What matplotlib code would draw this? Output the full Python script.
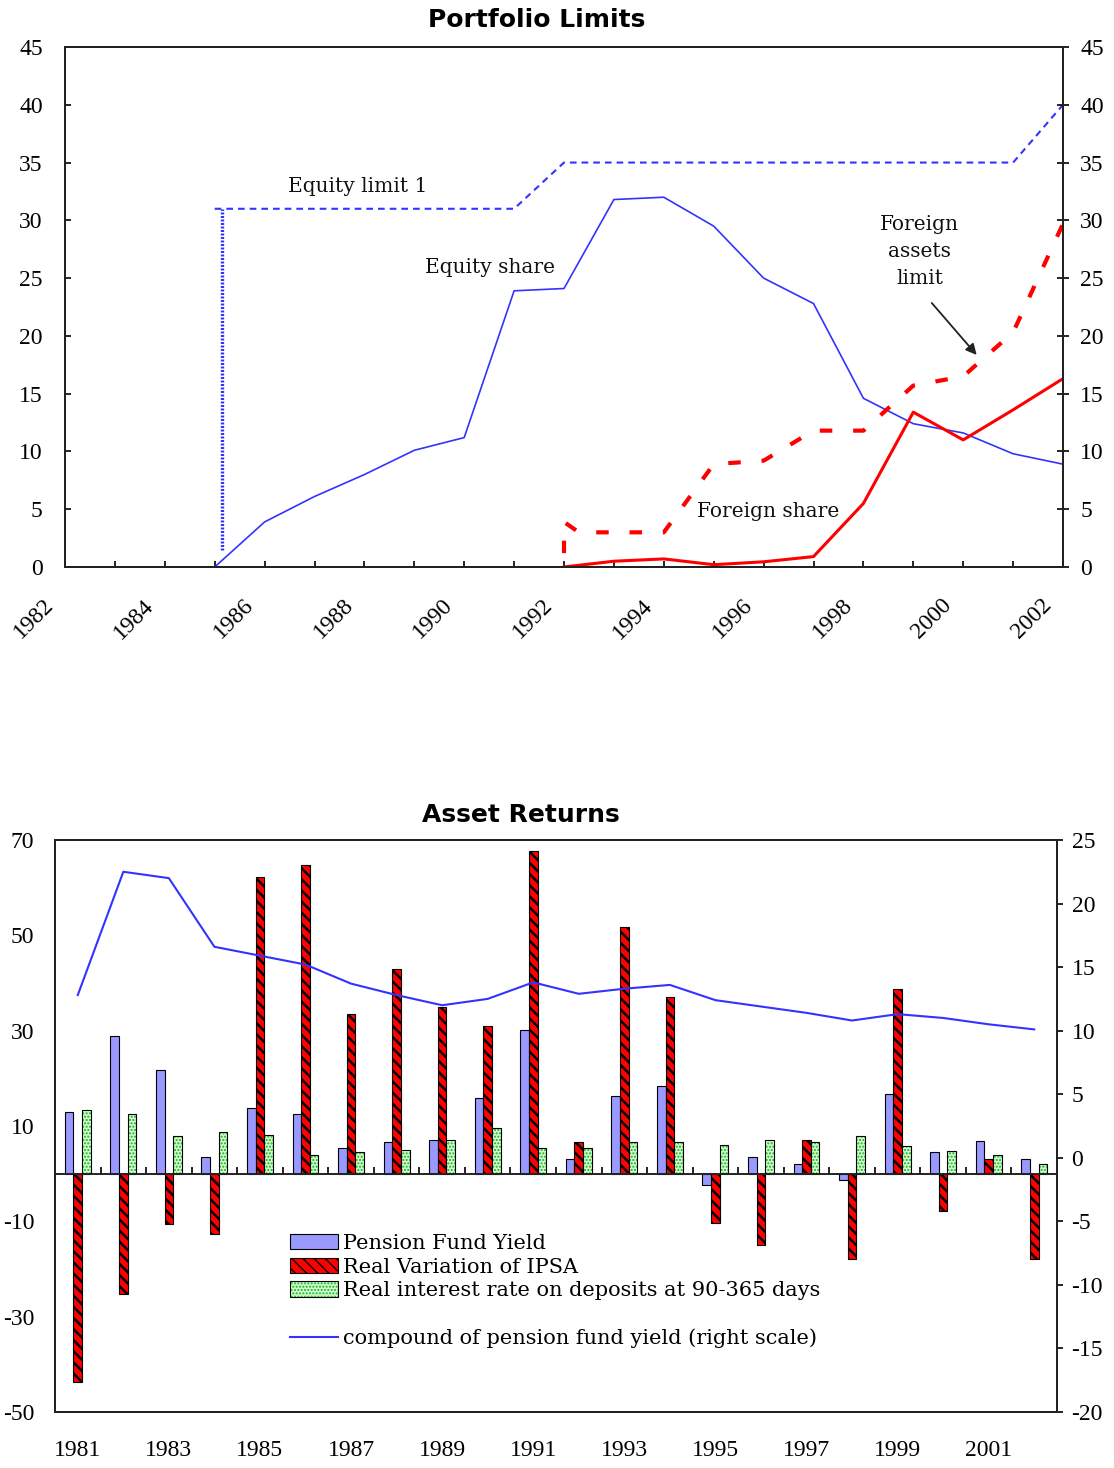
import matplotlib
matplotlib.use('Agg')
import matplotlib.pyplot as plt
import matplotlib.transforms as mtransforms
from matplotlib.patches import Patch
from matplotlib.lines import Line2D
from matplotlib.legend_handler import HandlerTuple

plt.rcParams['axes.unicode_minus'] = False

# ---------------- Data: Portfolio Limits ----------------
top_year_ticks = list(range(1982, 2003))
equity_limit_years = [1985, 1991, 1992, 2001, 2002]
equity_limit = [31, 31, 35, 35, 40]
equity_limit_vert_years = [1985.15, 1985.15]
equity_limit_vert = [1.5, 31]
equity_share_years = [1985, 1986, 1987, 1988, 1989, 1990, 1991, 1992, 1993, 1994,
                      1995, 1996, 1997, 1998, 1999, 2000, 2001, 2002]
equity_share = [0, 3.9, 6.1, 8.0, 10.1, 11.2, 23.9, 24.1, 31.8, 32.0,
                29.5, 25.0, 22.8, 14.6, 12.4, 11.6, 9.8, 8.9]
foreign_share_years = [1992, 1993, 1994, 1995, 1996, 1997, 1998, 1999, 2000, 2001, 2002]
foreign_share = [0, 0.5, 0.7, 0.2, 0.45, 0.9, 5.5, 13.4, 11.0, 13.6, 16.3]
foreign_limit_years = [1992, 1992, 1992.3, 1993, 1994, 1995, 1996, 1997, 1998, 1999, 2000, 2001, 2002]
foreign_limit = [1.2, 3.9, 3.0, 3.0, 3.0, 8.9, 9.2, 11.8, 11.8, 15.7, 16.5, 20.3, 29.7]

# ---------------- Data: Asset Returns ----------------
ret_years = [str(y) for y in range(1981, 2003)]
pension_yield = [12.9, 28.9, 21.8, 3.6, 13.7, 12.5, 5.3, 6.6, 7.0, 15.9, 30.1,
                 3.1, 16.2, 18.3, -2.3, 3.6, 2.0, -1.4, 16.7, 4.5, 6.9, 3.1]
ipsa_variation = [-43.8, -25.3, -10.5, -12.6, 62.3, 64.8, 33.6, 42.9, 34.9, 31.0, 67.7,
                  6.6, 51.7, 37.1, -10.3, -15.0, 7.0, -17.9, 38.8, -7.8, 3.1, -17.9]
deposit_rate = [13.3, 12.5, 7.8, 8.7, 8.2, 4.0, 4.5, 4.9, 7.0, 9.6, 5.3,
                5.3, 6.6, 6.6, 6.1, 7.0, 6.6, 7.8, 5.7, 4.8, 4.0, 2.0]
compound_yield = [12.8, 22.5, 22.0, 16.6, 15.9, 15.2, 13.7, 12.8, 12.0, 12.5, 13.8,
                  12.9, 13.3, 13.6, 12.4, 11.9, 11.4, 10.8, 11.3, 11.0, 10.5, 10.1]
left_ticks = [-50, -30, -10, 10, 30, 50, 70]
right_ticks = [-20, -15, -10, -5, 0, 5, 10, 15, 20, 25]

TICKFONT = 'Liberation Serif'
TICKSIZE = 17
TEXTFONT = 'DejaVu Serif'
W, H = 1114, 1468
fig = plt.figure(figsize=(W / 100, H / 100), dpi=100)

def frac_box(l, t, r, b):
    return [l / W, 1 - b / H, (r - l) / W, (b - t) / H]

# ================= Top chart =================
ax1 = fig.add_axes(frac_box(65, 47, 1063, 567))
blue = '#3333ff'
red = '#ff0000'
ax1.plot(equity_limit_years, equity_limit, color=blue, lw=1.5, dashes=(3.2, 2.4))
ax1.plot(equity_limit_vert_years, equity_limit_vert, color=blue, lw=2.4, dashes=(0.6, 0.45))
ax1.plot(equity_share_years, equity_share, color=blue, lw=1.2)
ax1.plot(foreign_share_years, foreign_share, color=red, lw=2.2)
ax1.plot(foreign_limit_years, foreign_limit, color=red, lw=3.0, dashes=(3, 5))

ax1.set_xlim(1982, 2002)
ax1.set_ylim(0, 45)
ax1.set_yticks(range(0, 46, 5))
ax1.set_xticks(top_year_ticks[::2])
ax1.set_xticks(top_year_ticks[1::2], minor=True)
ax1.set_xticklabels([str(y) for y in top_year_ticks[::2]], rotation=45, ha='right',
                    fontfamily=TICKFONT, fontsize=TICKSIZE)
ax1.tick_params(axis='x', which='both', direction='in', length=4.5, width=1.2, pad=20)
ax1.tick_params(axis='y', direction='in', length=4.5, width=1.2, pad=16)
for lbl in ax1.get_yticklabels():
    lbl.set_fontfamily(TICKFONT); lbl.set_fontsize(TICKSIZE)
offset = mtransforms.ScaledTranslation(-5 / 72, 0, fig.dpi_scale_trans)
for lbl in ax1.get_xticklabels():
    lbl.set_transform(lbl.get_transform() + offset)
ax1r = ax1.twinx()
ax1r.set_ylim(0, 45)
ax1r.set_yticks(range(0, 46, 5))
ax1r.tick_params(axis='y', direction='inout', length=9, width=1.2, pad=8)
for lbl in ax1r.get_yticklabels():
    lbl.set_fontfamily(TICKFONT); lbl.set_fontsize(TICKSIZE)
for a in (ax1, ax1r):
    for s in a.spines.values():
        s.set_linewidth(1.4); s.set_color('#222222')

tk = dict(fontfamily=TEXTFONT, fontsize=14.5, ha='center', va='center', color='#111111')
ax1.text(1987.87, 32.9, 'Equity limit 1', **tk)
ax1.text(1990.52, 25.9, 'Equity share', **tk)
ax1.text(1999.13, 27.3, 'Foreign\nassets\nlimit', linespacing=1.55, **tk)
ax1.text(1996.09, 4.8, 'Foreign share', **tk)
ax1.annotate('', xy=(2000.27, 18.35), xytext=(1999.37, 22.85),
             arrowprops=dict(arrowstyle='-|>', color='#222222', lw=1.3,
                             mutation_scale=16, shrinkA=0, shrinkB=0))

fig.text(537 / W, 1 - 20 / H, 'Portfolio Limits', ha='center', va='center',
         fontfamily='DejaVu Sans', fontweight='bold', fontsize=18)

# ================= Bottom chart =================
ax = fig.add_axes(frac_box(55, 840, 1057, 1412))
n = len(ret_years)
idx = list(range(n))
bw = 0.19
green_dot = '#22aa22'
b1 = ax.bar([i - bw for i in idx], pension_yield, width=bw, color='#9999ff',
            edgecolor='black', linewidth=0.8, zorder=2)
b2 = ax.bar(idx, ipsa_variation, width=bw, color='#ff0000', edgecolor='black',
            linewidth=0.8, hatch='\\\\\\', zorder=2)
for p in b2:
    if hasattr(p, 'set_hatch_linewidth'):
        p.set_hatch_linewidth(1.8)
b3 = ax.bar([i + bw for i in idx], deposit_rate, width=bw, color='#ccffcc',
            edgecolor=green_dot, linewidth=0, hatch='.....', zorder=2)
for p in b3:
    if hasattr(p, 'set_hatch_linewidth'):
        p.set_hatch_linewidth(1.0)
b3e = ax.bar([i + bw for i in idx], deposit_rate, width=bw, facecolor='none',
             edgecolor='black', linewidth=0.8, zorder=2.1)

ax.axhline(0, color='#222222', lw=1.4, zorder=3)
boundaries = [i + 0.5 for i in idx[:-1]]
ax.vlines(boundaries, 0, 1.3, color='#222222', lw=1.4, zorder=3)

ax.set_xlim(-0.5, n - 0.5)
ax.set_ylim(-50, 70)
ax.set_yticks(left_ticks)
ax.set_xticks(idx[::2])
ax.set_xticklabels(ret_years[::2], fontfamily=TICKFONT, fontsize=TICKSIZE)
ax.tick_params(axis='x', length=0, pad=20)
ax.tick_params(axis='y', length=0, pad=15)
for lbl in ax.get_yticklabels():
    lbl.set_fontfamily(TICKFONT); lbl.set_fontsize(TICKSIZE)

ax2 = ax.twinx()
ln, = ax2.plot(idx, compound_yield, color='#3333ff', lw=1.5, zorder=4)
ax2.set_ylim(-20, 25)
ax2.set_yticks(right_ticks)
ax2.tick_params(axis='y', direction='out', length=4.5, width=1.2, pad=6)
for lbl in ax2.get_yticklabels():
    lbl.set_fontfamily(TICKFONT); lbl.set_fontsize(TICKSIZE)
for a in (ax, ax2):
    for s in a.spines.values():
        s.set_linewidth(1.4); s.set_color('#222222')

h1 = Patch(facecolor='#9999ff', edgecolor='black', linewidth=0.8)
h2 = Patch(facecolor='#ff0000', edgecolor='black', linewidth=0.8, hatch='\\\\\\')
h3a = Patch(facecolor='#ccffcc', edgecolor=green_dot, linewidth=0, hatch='.....')
h3b = Patch(facecolor='none', edgecolor='black', linewidth=0.8)
blank = Line2D([], [], color='none')
hl = Line2D([], [], color='#3333ff', lw=1.5)
leg = ax2.legend([h1, h2, (h3a, h3b), blank, hl],
                 ['Pension Fund Yield', 'Real Variation of IPSA',
                  'Real interest rate on deposits at 90-365 days', '',
                  'compound of pension fund yield (right scale)'],
                 handler_map={tuple: HandlerTuple(ndivide=1, pad=0)},
                 loc='upper left', bbox_to_anchor=(290 / W, 1 - 1234 / H),
                 bbox_transform=fig.transFigure, frameon=False, borderpad=0,
                 borderaxespad=0, handlelength=2.3, handleheight=0.75,
                 handletextpad=0.25, labelspacing=0.22,
                 prop={'family': TEXTFONT, 'size': 15})

fig.text(521 / W, 1 - 815 / H, 'Asset Returns', ha='center', va='center',
         fontfamily='DejaVu Sans', fontweight='bold', fontsize=18)

fig.savefig('out.png', dpi=100)
